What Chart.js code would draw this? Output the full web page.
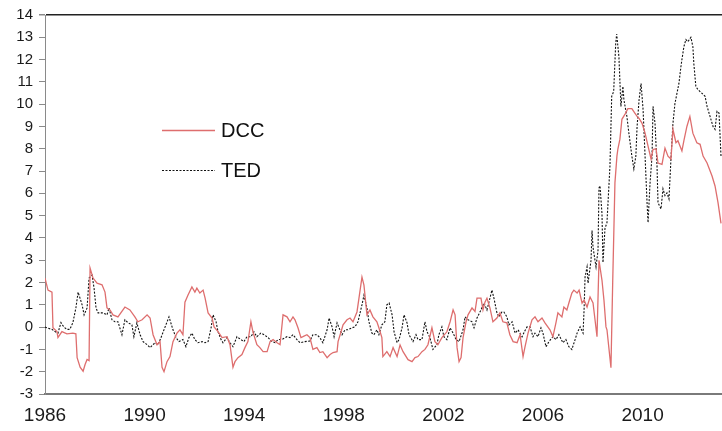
<!DOCTYPE html>
<html>
<head>
<meta charset="utf-8">
<script src="https://cdn.jsdelivr.net/npm/chart.js@4/dist/chart.umd.min.js"></script>
<style>
  html, body { margin: 0; padding: 0; background: #ffffff; }
  #wrap { width: 722px; height: 431px; position: relative; }
</style>
</head>
<body>
<div id="wrap"><canvas id="c" width="722" height="431"></canvas></div>
<script>
// ---- Data ----
const seriesNames = ["DCC", "TED"];
const xTickYears = [1986, 1990, 1994, 1998, 2002, 2006, 2010];
const yTickValues = [-3, -2, -1, 0, 1, 2, 3, 4, 5, 6, 7, 8, 9, 10, 11, 12, 13, 14];

const dccYears = [
  1986.00,1986.12,1986.28,1986.32,1986.48,1986.52,1986.68,1986.88,1987.12,1987.24,
  1987.29,1987.41,1987.53,1987.61,1987.69,1987.77,1987.81,1987.93,1988.09,1988.29,
  1988.41,1988.49,1988.61,1988.73,1988.93,1989.21,1989.41,1989.61,1989.73,1989.90,
  1990.10,1990.22,1990.34,1990.50,1990.62,1990.70,1990.78,1990.90,1991.02,1991.14,
  1991.30,1991.42,1991.54,1991.62,1991.74,1991.90,1992.02,1992.10,1992.22,1992.35,
  1992.43,1992.55,1992.71,1992.79,1992.95,1993.11,1993.31,1993.43,1993.55,1993.63,
  1993.75,1993.91,1994.03,1994.15,1994.27,1994.35,1994.51,1994.63,1994.76,1994.92,
  1995.04,1995.16,1995.32,1995.44,1995.56,1995.72,1995.84,1995.96,1996.04,1996.16,
  1996.28,1996.36,1996.52,1996.64,1996.76,1996.92,1997.04,1997.16,1997.33,1997.45,
  1997.57,1997.73,1997.77,1997.89,1997.97,1998.13,1998.25,1998.37,1998.53,1998.61,
  1998.73,1998.81,1998.89,1998.93,1999.05,1999.17,1999.33,1999.41,1999.53,1999.57,
  1999.73,1999.86,1999.98,2000.14,2000.26,2000.38,2000.58,2000.74,2000.86,2000.98,
  2001.14,2001.26,2001.38,2001.54,2001.66,2001.78,2001.94,2002.14,2002.27,2002.39,
  2002.47,2002.55,2002.63,2002.71,2002.79,2002.91,2002.99,2003.15,2003.27,2003.35,
  2003.51,2003.59,2003.67,2003.75,2003.87,2003.99,2004.15,2004.27,2004.39,2004.55,
  2004.67,2004.80,2004.96,2005.08,2005.20,2005.28,2005.40,2005.56,2005.68,2005.80,
  2005.96,2006.08,2006.28,2006.40,2006.52,2006.60,2006.76,2006.84,2006.96,2007.04,
  2007.16,2007.24,2007.37,2007.45,2007.57,2007.65,2007.77,2007.89,2008.01,2008.09,
  2008.17,2008.25,2008.37,2008.45,2008.53,2008.57,2008.73,2008.80,2008.89,2008.97,
  2009.01,2009.09,2009.17,2009.29,2009.41,2009.57,2009.69,2009.78,2009.86,2009.98,
  2010.10,2010.22,2010.34,2010.42,2010.54,2010.62,2010.78,2010.90,2011.02,2011.14,
  2011.22,2011.34,2011.42,2011.58,2011.66,2011.78,2011.90,2012.02,2012.18,2012.31,
  2012.43,2012.59,2012.79,2012.91,2013.03,2013.15
];
const dccValues = [
  2.2,1.66,1.57,-0.03,-0.2,-0.47,-0.2,-0.3,-0.27,-0.3,
  -1.37,-1.8,-1.98,-1.68,-1.45,-1.5,2.65,2.2,1.97,1.9,
  1.57,0.86,0.77,0.55,0.46,0.9,0.77,0.46,0.24,0.33,
  0.55,0.41,-0.34,-0.79,-0.65,-1.8,-2.0,-1.55,-1.32,-0.65,
  -0.27,-0.12,-0.34,1.12,1.43,1.8,1.57,1.75,1.53,1.66,
  1.3,0.64,0.41,0.01,-0.2,-0.47,-0.43,-0.79,-1.8,-1.55,
  -1.37,-1.23,-0.92,-0.65,0.24,-0.21,-0.79,-0.92,-1.1,-1.1,
  -0.65,-0.56,-0.7,-0.79,0.55,0.46,0.24,0.46,0.33,-0.03,
  -0.47,-0.43,-0.34,-0.47,-1.0,-0.92,-1.14,-1.1,-1.37,-1.23,
  -1.14,-1.1,-0.65,-0.21,0.1,0.33,0.41,0.24,0.68,1.3,
  2.24,1.88,1.0,0.55,0.77,0.46,0.24,-0.03,-0.47,-1.32,
  -1.1,-1.32,-0.92,-1.32,-0.8,-1.1,-1.46,-1.55,-1.37,-1.32,
  -1.1,-1.0,-0.79,-0.03,-0.65,-0.79,-0.47,-0.21,0.24,0.77,
  0.55,-0.92,-1.55,-1.37,-0.47,0.24,0.55,0.86,0.7,1.3,
  1.3,0.77,1.12,1.3,0.86,0.24,0.41,0.64,0.24,0.19,
  -0.34,-0.65,-0.7,-0.34,-1.32,-0.88,-0.27,0.33,0.46,0.24,
  0.41,0.19,-0.12,-0.43,0.19,0.64,0.46,0.9,0.77,1.08,
  1.53,1.66,1.53,1.66,1.08,1.21,0.9,1.35,1.08,0.33,
  -0.43,3.0,2.1,1.2,0.01,-0.12,-1.82,2.0,6.47,7.67,
  8.0,8.43,9.32,9.54,9.8,9.8,9.6,9.45,9.36,9.14,
  8.7,8.12,7.54,7.97,8.0,7.36,7.3,8.03,7.67,7.54,
  8.87,8.27,8.36,7.9,8.36,9.0,9.45,8.7,8.27,8.2,
  7.67,7.36,6.78,6.33,5.58,4.65
];

const tedYears = [
  1986.00,1986.12,1986.28,1986.40,1986.52,1986.64,1986.76,1986.88,1987.00,1987.12,
  1987.24,1987.33,1987.49,1987.57,1987.69,1987.77,1987.89,1987.97,1988.05,1988.13,
  1988.33,1988.49,1988.57,1988.69,1988.81,1988.93,1989.09,1989.21,1989.33,1989.49,
  1989.57,1989.69,1989.82,1989.94,1990.10,1990.22,1990.42,1990.54,1990.66,1990.82,
  1990.98,1991.14,1991.26,1991.38,1991.54,1991.66,1991.78,1991.90,1992.02,1992.14,
  1992.31,1992.43,1992.55,1992.67,1992.75,1992.87,1992.95,1993.07,1993.15,1993.31,
  1993.43,1993.55,1993.71,1993.87,1993.99,1994.11,1994.27,1994.39,1994.51,1994.67,
  1994.80,1994.96,1995.12,1995.24,1995.36,1995.52,1995.72,1995.84,1995.96,1996.12,
  1996.24,1996.44,1996.64,1996.76,1996.92,1997.04,1997.16,1997.33,1997.41,1997.53,
  1997.61,1997.73,1997.81,1997.93,1998.05,1998.17,1998.33,1998.45,1998.57,1998.73,
  1998.81,1998.93,1999.01,1999.13,1999.21,1999.33,1999.41,1999.53,1999.65,1999.73,
  1999.82,1999.94,2000.02,2000.14,2000.22,2000.34,2000.42,2000.54,2000.62,2000.78,
  2000.90,2000.98,2001.14,2001.26,2001.34,2001.46,2001.58,2001.74,2001.82,2001.94,
  2002.02,2002.14,2002.27,2002.39,2002.51,2002.63,2002.79,2002.87,2002.99,2003.15,
  2003.23,2003.35,2003.51,2003.63,2003.75,2003.83,2003.95,2004.03,2004.15,2004.23,
  2004.35,2004.43,2004.55,2004.63,2004.76,2004.88,2005.00,2005.16,2005.28,2005.36,
  2005.48,2005.60,2005.68,2005.80,2005.92,2006.00,2006.12,2006.24,2006.40,2006.52,
  2006.64,2006.80,2006.92,2007.04,2007.16,2007.29,2007.37,2007.49,2007.61,2007.65,
  2007.69,2007.77,2007.81,2007.93,2007.97,2008.01,2008.13,2008.21,2008.25,2008.29,
  2008.37,2008.41,2008.49,2008.57,2008.69,2008.76,2008.84,2008.92,2008.96,2009.05,
  2009.13,2009.21,2009.25,2009.37,2009.45,2009.57,2009.65,2009.73,2009.78,2009.86,
  2009.94,2010.02,2010.10,2010.18,2010.22,2010.30,2010.38,2010.42,2010.50,2010.58,
  2010.62,2010.74,2010.82,2010.90,2010.98,2011.06,2011.14,2011.22,2011.30,2011.38,
  2011.46,2011.54,2011.58,2011.66,2011.74,2011.82,2011.94,2012.02,2012.06,2012.14,
  2012.22,2012.39,2012.51,2012.59,2012.71,2012.83,2012.91,2012.99,2013.07,2013.15
];
const tedValues = [
  0.0,-0.05,-0.1,-0.2,-0.27,0.2,0.0,-0.1,-0.1,0.2,
  0.86,1.57,1.0,0.55,0.86,2.2,2.33,1.75,0.86,0.64,
  0.64,0.55,0.86,0.33,0.24,0.24,-0.34,0.33,0.2,0.1,
  -0.43,0.19,-0.34,-0.65,-0.79,-0.92,-0.7,-0.79,-0.47,0.0,
  0.46,-0.12,-0.47,-0.65,-0.56,-0.88,-0.47,-0.27,-0.56,-0.7,
  -0.65,-0.7,-0.65,-0.03,0.55,0.24,-0.21,-0.56,-0.7,-0.47,
  -0.7,-0.88,-0.43,-0.56,-0.65,-0.43,-0.43,-0.21,-0.43,-0.27,
  -0.34,-0.47,-0.65,-0.7,-0.56,-0.55,-0.43,-0.47,-0.34,-0.56,
  -0.7,-0.65,-0.62,-0.34,-0.34,-0.47,-0.7,-0.12,0.41,0.01,
  -0.43,0.19,-0.03,-0.34,-0.12,-0.12,-0.03,0.01,0.24,1.0,
  1.43,0.86,0.24,-0.27,-0.34,-0.12,-0.34,0.1,0.24,1.0,
  1.08,0.55,-0.21,-0.7,-0.56,-0.03,0.55,0.19,-0.34,-0.65,
  -0.34,-0.56,-0.56,0.24,-0.2,-0.47,-1.0,-0.79,-0.34,0.01,
  -0.43,-0.56,-0.03,-0.27,-0.56,-0.65,-0.12,0.46,0.33,0.24,
  -0.03,0.41,0.77,1.08,0.77,1.12,1.66,1.3,0.64,0.46,
  0.68,0.68,0.46,0.1,0.24,-0.27,-0.12,-0.43,-0.15,0.01,
  0.01,-0.43,-0.27,-0.43,-0.03,-0.27,-0.88,-0.65,-0.43,-0.56,
  -0.34,-0.7,-0.56,-0.88,-1.0,-0.56,-0.27,0.01,-0.27,0.77,
  2.25,2.7,1.97,3.0,4.33,3.58,2.7,3.44,6.25,6.34,
  5.08,2.9,4.42,4.69,7.23,10.35,10.57,12.7,13.15,12.13,
  9.9,10.8,10.2,9.45,8.7,7.67,7.1,7.67,9.0,10.2,
  10.93,9.76,7.67,5.58,4.69,6.47,7.67,9.9,9.14,7.23,
  5.58,5.3,6.2,5.9,6.02,5.75,7.54,9.14,10.03,10.48,
  10.93,11.68,12.0,12.58,12.9,12.8,13.0,12.58,11.8,10.8,
  10.66,10.48,10.35,9.9,9.45,9.0,8.87,9.68,9.6,7.67
];

// ---- Build points from the arrays ----
function toPoints(xs, ys) { return xs.map((x, i) => ({ x: x, y: ys[i] })); }

const FONT = "'Liberation Sans', Arial, sans-serif";
const DCC_COLOR = '#de6e6e';
const TED_COLOR = '#111111';

const legendPlugin = {
  id: 'innerLegend',
  afterDatasetsDraw(chart) {
    const ctx = chart.ctx;
    const items = [
      { label: seriesNames[0], color: DCC_COLOR, dash: [], width: 1.3, y: 130 },
      { label: seriesNames[1], color: TED_COLOR, dash: [2, 1.5], width: 1.1, y: 170 }
    ];
    ctx.save();
    items.forEach(it => {
      ctx.beginPath();
      ctx.setLineDash(it.dash);
      ctx.strokeStyle = it.color;
      ctx.lineWidth = it.width;
      ctx.moveTo(162, it.y + 0.5);
      ctx.lineTo(215, it.y + 0.5);
      ctx.stroke();
      ctx.setLineDash([]);
      ctx.fillStyle = '#111';
      ctx.font = '20px ' + FONT;
      ctx.textBaseline = 'middle';
      ctx.textAlign = 'left';
      ctx.fillText(it.label, 221, it.y + 1);
    });
    ctx.restore();
  }
};

new Chart(document.getElementById('c'), {
  type: 'line',
  data: {
    datasets: [
      {
        label: seriesNames[0],
        data: toPoints(dccYears, dccValues),
        borderColor: DCC_COLOR,
        borderWidth: 1.3,
        pointRadius: 0,
        tension: 0,
        fill: false
      },
      {
        label: seriesNames[1],
        data: toPoints(tedYears, tedValues),
        borderColor: TED_COLOR,
        borderWidth: 1.1,
        borderDash: [2, 1.5],
        pointRadius: 0,
        tension: 0,
        fill: false
      }
    ]
  },
  options: {
    responsive: false,
    devicePixelRatio: 1,
    animation: false,
    events: [],
    layout: { padding: { top: 13, right: 0, left: 0, bottom: 0 } },
    plugins: {
      legend: { display: false },
      tooltip: { enabled: false }
    },
    scales: {
      x: {
        type: 'linear',
        min: xTickYears[0],
        max: 2013.19,
        afterFit(scale) { scale.height = 37; },
        afterBuildTicks(scale) {
          scale.ticks = xTickYears.map(v => ({ value: v }));
        },
        ticks: {
          includeBounds: false,
          autoSkip: false,
          maxRotation: 0,
          padding: 10,
          color: '#1a1a1a',
          font: { family: FONT, size: 19 },
          callback: v => String(v)
        },
        grid: { drawOnChartArea: false, drawTicks: false },
        border: { display: true, color: '#7a7a7a', width: 2 }
      },
      y: {
        type: 'linear',
        min: yTickValues[0],
        max: yTickValues[yTickValues.length - 1],
        afterFit(scale) { scale.width = 45; },
        afterBuildTicks(scale) {
          scale.ticks = yTickValues.map(v => ({ value: v }));
        },
        ticks: {
          autoSkip: false,
          padding: 6,
          color: '#1a1a1a',
          font: { family: FONT, size: 15 },
          callback: v => String(v)
        },
        grid: {
          drawOnChartArea: true,
          color: c => (c.tick && c.tick.value === 14) ? '#222222' : 'rgba(0,0,0,0)',
          lineWidth: c => (c.tick && c.tick.value === 14) ? 1.5 : 1,
          tickColor: '#8a8a8a',
          tickLength: 6
        },
        border: { display: true, color: '#8a8a8a', width: 1 }
      }
    }
  },
  plugins: [legendPlugin]
});
</script>
</body>
</html>
